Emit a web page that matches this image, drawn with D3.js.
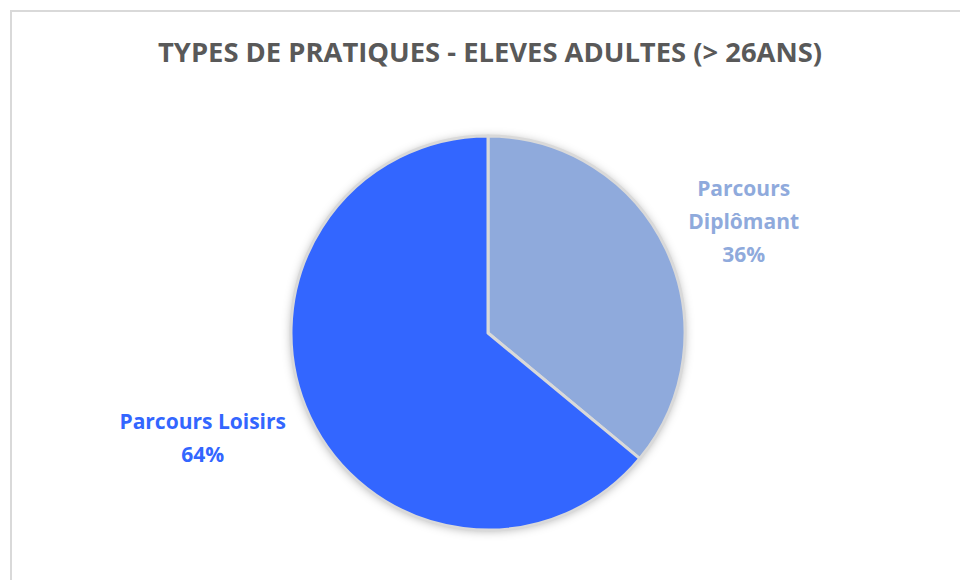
<!DOCTYPE html>
<html><head><meta charset="utf-8">
<script src="https://cdn.jsdelivr.net/npm/d3@7"></script>
<style>html,body{margin:0;padding:0;background:#fff;}svg{display:block;}</style>
</head><body>
<svg id="chart" width="960" height="580"></svg>
<script>
const title = "TYPES DE PRATIQUES - ELEVES ADULTES (> 26ANS)";
const categories = ["Parcours Diplômant", "Parcours Loisirs"];
const labelLines = [["Parcours", "Diplômant"], ["Parcours Loisirs"]];
const values = [36, 64];
const colors = ["#8FAADC", "#3366FF"];

const W = 960, H = 580;
const cx = 488, cy = 333, R = 197;
const FONT = "'Open Sans', 'Noto Sans', sans-serif";
// label placement (polar, relative to slice): angle in degrees clockwise from top, radius factor
const labelPolar = [{a: 66.4, k: 1.416}, {a: 249.8, k: 1.543}];

const svg = d3.select("#chart");
const defs = svg.append("defs");
const f = defs.append("filter").attr("id", "shadow").attr("x", "-20%").attr("y", "-20%").attr("width", "140%").attr("height", "140%");
f.append("feDropShadow").attr("dx", 0).attr("dy", 1).attr("stdDeviation", 5).attr("flood-color", "#000").attr("flood-opacity", 0.3);

// chart border
svg.append("rect").attr("x", 11).attr("y", 11).attr("width", 1000).attr("height", 1000)
  .attr("fill", "#fff").attr("stroke", "#D9D9D9").attr("stroke-width", 2);

// title (condensed to match reference width)
svg.append("text").attr("x", 158).attr("y", 62).attr("text-anchor", "start")
  .attr("font-family", FONT).attr("font-weight", 700).attr("font-size", 27)
  .attr("textLength", 664).attr("lengthAdjust", "spacingAndGlyphs")
  .attr("fill", "#595959").text(title);

const total = d3.sum(values);
const pie = d3.pie().sort(null).value(d => d)(values);
const arc = d3.arc().innerRadius(0).outerRadius(R);

const g = svg.append("g").attr("transform", `translate(${cx},${cy})`);
g.append("circle").attr("r", R).attr("fill", "#D9D9D9").attr("filter", "url(#shadow)");
g.selectAll("path.slice").data(pie).join("path").attr("class", "slice")
  .attr("d", arc).attr("fill", (d, i) => colors[i])
  .attr("stroke", "#D9D9D9").attr("stroke-width", 3).attr("stroke-linejoin", "round");

// labels
const lineH = 33;
pie.forEach((d, i) => {
  const p = labelPolar[i];
  const ang = p.a * Math.PI / 180;
  const lx = Math.sin(ang) * R * p.k, ly = -Math.cos(ang) * R * p.k;
  const lines = labelLines[i].concat([Math.round(values[i] / total * 100) + "%"]);
  const txt = g.append("text").attr("text-anchor", "middle")
    .attr("font-family", FONT).attr("font-weight", 700).attr("font-size", 21)
    .attr("fill", colors[i]);
  const n = lines.length;
  lines.forEach((s, j) => {
    txt.append("tspan").attr("x", lx).attr("y", ly + (j - (n - 1) / 2) * lineH + 8).text(s);
  });
});
</script>
</body></html>
